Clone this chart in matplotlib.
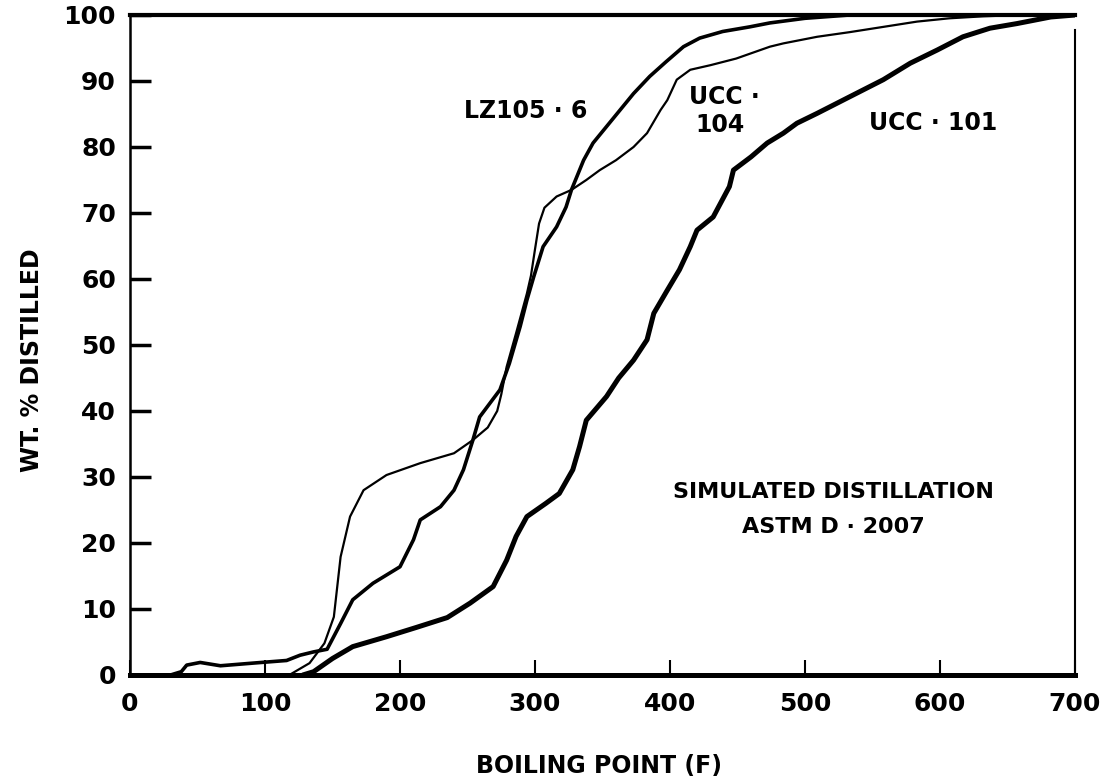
import matplotlib
matplotlib.use('Agg')
import matplotlib.pyplot as plt

# boiling point (F) vs wt. % distilled
lz105_x = [30, 38, 42, 52, 67, 91, 116, 126, 136, 146, 156, 165, 180, 200, 210, 215, 230, 240, 247,
           254, 259, 274, 281, 289, 294, 299, 306, 316, 323, 327, 336, 343, 353, 365, 373, 385, 397,
           410, 422, 439, 459, 474, 500, 533, 700]
lz105_y = [0, 0.5, 1.5, 1.9, 1.4, 1.8, 2.2, 3.0, 3.5, 3.9, 7.8, 11.4, 13.9, 16.4, 20.5, 23.5, 25.5, 28.0, 31.1,
           35.6, 39.1, 43.2, 47.2, 52.8, 56.8, 60.3, 64.9, 67.9, 70.9, 73.5, 78.0, 80.6, 83.1, 86.1, 88.1, 90.7, 92.9,
           95.2, 96.5, 97.5, 98.2, 98.8, 99.5, 100, 100]

ucc104_x = [118, 133, 144, 151, 156, 163, 173, 190, 215, 240, 254, 265, 272, 275, 279, 286, 290, 294, 297,
            300, 303, 307, 316, 327, 338, 348, 360, 373, 383, 393, 398, 405, 415, 430, 449, 474, 484, 509,
            533, 558, 583, 607, 632, 660]
ucc104_y = [0, 1.8, 4.8, 8.8, 17.9, 24.0, 28.0, 30.3, 32.1, 33.6, 35.6, 37.5, 40.0, 42.5, 46.7, 51.8, 54.8, 57.8, 60.5,
            64.5, 68.4, 70.8, 72.5, 73.5, 75.0, 76.5, 78.0, 80.0, 82.1, 85.6, 87.1, 90.2, 91.7, 92.4, 93.4, 95.2, 95.7, 96.7,
            97.4, 98.2, 99.0, 99.5, 99.8, 100]

ucc101_x = [128, 136, 150, 165, 190, 212, 235, 252, 269, 279, 286, 294, 308, 318, 328, 333, 338, 353, 362,
            373, 383, 388, 398, 407, 415, 420, 432, 444, 447, 460, 472, 484, 494, 509, 533, 558, 578, 598,
            617, 637, 657, 682, 700]
ucc101_y = [0, 0.5, 2.5, 4.3, 5.8, 7.2, 8.7, 10.9, 13.4, 17.4, 21.0, 24.0, 26.0, 27.5, 31.1, 34.6, 38.6, 42.2, 45.0,
            47.7, 50.8, 54.8, 58.3, 61.4, 64.9, 67.4, 69.4, 74.0, 76.5, 78.5, 80.6, 82.1, 83.6, 85.1, 87.6, 90.2, 92.7, 94.7,
            96.7, 98.0, 98.7, 99.7, 100]

x_ticks = [0, 100, 200, 300, 400, 500, 600, 700]
y_ticks = [0, 10, 20, 30, 40, 50, 60, 70, 80, 90, 100]

plt.rcParams['font.family'] = ['DejaVu Sans']
plt.rcParams['font.weight'] = 'bold'

fig = plt.figure(figsize=(11.09, 7.84), dpi=100)
ax = fig.add_axes([130 / 1109, 1 - 675 / 784, 945 / 1109, 660 / 784])

ax.plot(ucc101_x, ucc101_y, color='black', lw=3.6, solid_joinstyle='round', solid_capstyle='round')
ax.plot(lz105_x, lz105_y, color='black', lw=2.6, solid_joinstyle='round', solid_capstyle='round')
ax.plot(ucc104_x, ucc104_y, color='black', lw=1.6, solid_joinstyle='round', solid_capstyle='round')

ax.set_xlim(0, 700)
ax.set_ylim(0, 100)
ax.set_xticks(x_ticks)
ax.set_yticks(y_ticks)
ax.tick_params(axis='y', direction='in', length=15, width=2.5, pad=10, labelsize=18)
ax.tick_params(axis='x', direction='in', length=11, width=1.5, pad=12, labelsize=18)

ax.spines['top'].set_linewidth(3.0)
ax.spines['bottom'].set_linewidth(3.6)
ax.spines['left'].set_linewidth(1.8)
ax.spines['right'].set_linewidth(1.5)
ax.spines['right'].set_bounds(0, 97.8)

ax.text(293, 85.4, 'LZ105 · 6', ha='center', va='center', fontsize=17)
ax.text(414, 87.6, 'UCC ·', ha='left', va='center', fontsize=17)
ax.text(419, 83.4, '104', ha='left', va='center', fontsize=17)
ax.text(595, 83.6, 'UCC · 101', ha='center', va='center', fontsize=17)
ax.text(521, 27.7, 'SIMULATED DISTILLATION', ha='center', va='center', fontsize=16)
ax.text(521, 22.4, 'ASTM D · 2007', ha='center', va='center', fontsize=16)

fig.text(32 / 1109, 1 - 360 / 784, 'WT. % DISTILLED', rotation=90, ha='center', va='center', fontsize=17)
fig.text(599 / 1109, 1 - 766 / 784, 'BOILING POINT (F)', ha='center', va='center', fontsize=17)

fig.savefig('out.png', dpi=100)
